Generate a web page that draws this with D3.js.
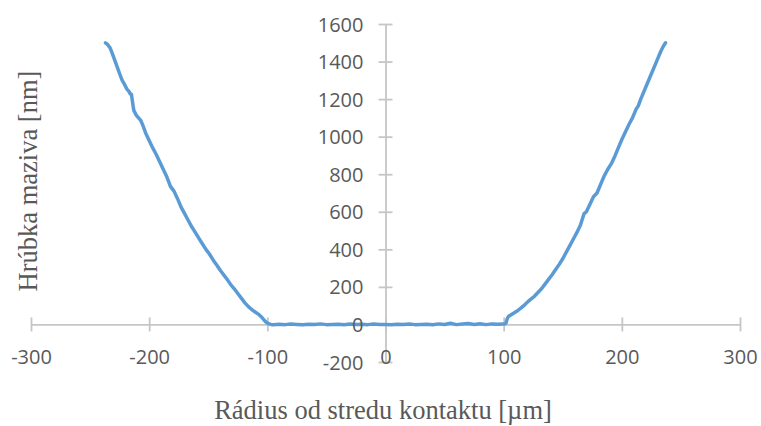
<!DOCTYPE html>
<html>
<head>
<meta charset="utf-8">
<script src="https://cdn.jsdelivr.net/npm/d3@7"></script>
<style>
  html, body { margin: 0; padding: 0; background: #fff; }
  svg { display: block; }
</style>
</head>
<body>
<svg id="chart" width="761" height="426"></svg>
<script>
// ---- Data ----
const xTicks = [-300, -200, -100, 0, 100, 200, 300];
const yTicks = [-200, 0, 200, 400, 600, 800, 1000, 1200, 1400, 1600];

const radius = [
  -237, -235, -233, -231, -229, -227, -225, -223, -221, -219, -217, -216, -215, -214, -213,
  -211, -209, -207, -205, -203, -200, -197, -194, -191, -188, -185, -182, -179, -176, -173,
  -170, -167, -164, -161, -158, -155, -152, -149, -146, -143, -140, -137, -134, -131, -128,
  -125, -122, -119, -116, -113, -110, -107, -105, -103, -101, -99, -97,
  -95, -90, -85, -80, -75, -70, -65, -60, -55, -50, -45, -40, -35, -30, -25, -20, -15, -10, -5,
  0, 5, 10, 15, 20, 25, 30, 35, 40, 45, 50, 55, 60, 65, 70, 75, 80, 85, 90, 95, 99,
  101, 102, 103, 104, 106, 108, 111, 114, 117, 120, 123, 126, 129, 132, 135, 138, 141, 144,
  147, 150, 153, 156, 159, 162, 165, 167, 168, 170, 173, 176, 179, 182, 185, 188, 191, 194,
  197, 200, 203, 206, 209, 212, 214, 216, 219, 222, 225, 228, 231, 233, 235, 237
];
const thickness = [
  1500, 1490, 1472, 1440, 1405, 1370, 1335, 1302, 1280, 1255, 1240, 1228, 1225, 1180, 1140,
  1115, 1100, 1085, 1055, 1020, 980, 940, 905, 865, 825, 785, 735, 710, 670, 625,
  590, 555, 520, 490, 460, 430, 400, 375, 345, 318, 290, 265, 240, 212, 190,
  165, 140, 115, 95, 78, 65, 52, 40, 25, 12, 4, 0,
  -2, 1, -1, 2, 0, -2, 1, 0, 3, -1, 0, 1, -2, 2, 0, 1, -1, 2, 0,
  0, -2, 1, 0, 2, -1, 0, 1, -2, 3, 0, 6, -1, 2, 5, 0, 4, -1, 3, 1, 2,
  2, 8, 30, 42, 50, 58, 70, 84, 100, 118, 135, 150, 170, 190, 215, 240, 265, 292,
  320, 350, 385, 420, 455, 490, 530, 570, 590, 600, 640, 680, 700, 745, 790, 825, 855, 895,
  940, 985, 1025, 1065, 1100, 1145, 1165, 1200, 1245, 1290, 1335, 1380, 1425, 1455, 1480, 1500
];
const xTitle = "Rádius od stredu kontaktu [µm]";
const yTitle = "Hrúbka maziva [nm]";

// ---- Layout ----
const svg = d3.select("#chart");
const x = d3.scaleLinear().domain([-300, 300]).range([31, 740]);
const y = d3.scaleLinear().domain([-200, 1600]).range([362, 24]);

const axisColor = "#c6c6c6";
const textColor = "#595959";
const tickFont = "'Open Sans', 'Liberation Sans', sans-serif";
const fmt = d => String(d); // plain hyphen-minus like the reference

// Axis lines and ticks
const gx = svg.append("g").attr("transform", `translate(0,${y(0)})`)
  .call(d3.axisBottom(x).tickValues(xTicks).tickSize(7).tickSizeOuter(0).tickFormat(""));
gx.select(".domain").attr("stroke", axisColor).attr("stroke-width", 1.8);
gx.selectAll(".tick line").attr("y1", -7).attr("y2", 7).attr("stroke", axisColor).attr("stroke-width", 1.8);

const gy = svg.append("g").attr("transform", `translate(${x(0)},0)`)
  .call(d3.axisLeft(y).tickValues(yTicks).tickSize(7).tickSizeOuter(0).tickFormat(""));
gy.select(".domain").attr("stroke", axisColor).attr("stroke-width", 1.8);
gy.selectAll(".tick line").attr("x1", -7).attr("x2", 7).attr("stroke", axisColor).attr("stroke-width", 1.8);

// Data line
const pts = radius.map((r, i) => [r, thickness[i]]);
svg.append("path")
  .datum(pts)
  .attr("fill", "none")
  .attr("stroke", "#5b9bd5")
  .attr("stroke-width", 3.5)
  .attr("stroke-linejoin", "round")
  .attr("stroke-linecap", "round")
  .attr("d", d3.line().x(d => x(d[0])).y(d => y(d[1])));

// Tick labels (on top)
const lx = svg.append("g").attr("transform", `translate(0,${y(0)})`)
  .call(d3.axisBottom(x).tickValues(xTicks).tickSize(0).tickFormat(fmt));
lx.select(".domain").remove();
lx.selectAll(".tick text")
  .attr("y", 33).attr("dy", "0.35em")
  .attr("fill", textColor).style("font-family", tickFont).style("font-size", "20px");

const ly = svg.append("g").attr("transform", `translate(${x(0)},0)`)
  .call(d3.axisLeft(y).tickValues(yTicks).tickSize(0).tickFormat(fmt));
ly.select(".domain").remove();
ly.selectAll(".tick text")
  .attr("x", -22).attr("dy", "0.35em")
  .attr("fill", textColor).style("font-family", tickFont).style("font-size", "20px");

// Axis titles
svg.append("text")
  .attr("x", 383).attr("y", 419)
  .attr("text-anchor", "middle")
  .attr("fill", textColor)
  .style("font-family", "'Liberation Serif', 'Times New Roman', serif")
  .style("font-size", "26.5px")
  .text(xTitle);

svg.append("text")
  .attr("transform", "translate(28,181) rotate(-90)")
  .attr("text-anchor", "middle")
  .attr("dy", "0.35em")
  .attr("fill", textColor)
  .style("font-family", "'Liberation Serif', 'Times New Roman', serif")
  .style("font-size", "26.5px")
  .text(yTitle);
</script>
</body>
</html>
